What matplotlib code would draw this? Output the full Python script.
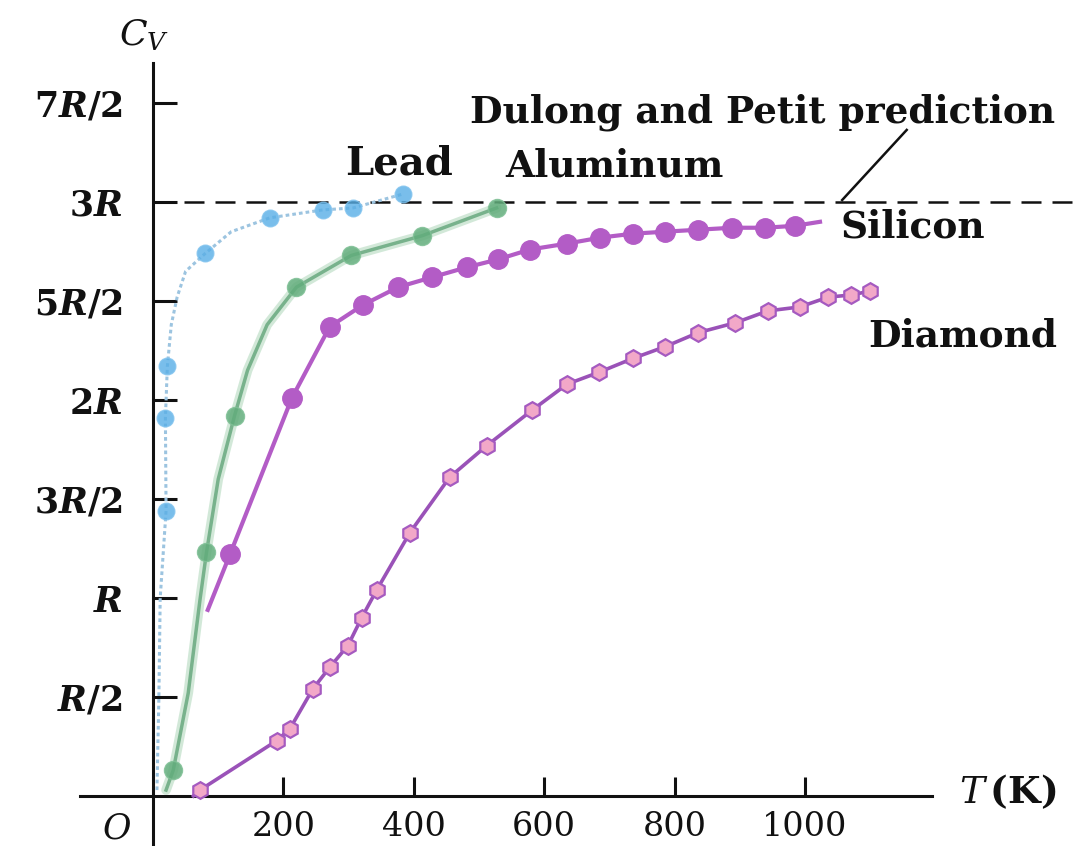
import matplotlib
matplotlib.use("Agg")
import matplotlib.pyplot as plt

plt.rcParams['mathtext.fontset'] = 'custom'
plt.rcParams['mathtext.rm'] = 'DejaVu Serif'
plt.rcParams['mathtext.it'] = 'DejaVu Serif:italic'
plt.rcParams['mathtext.bf'] = 'DejaVu Serif:bold'
plt.rcParams['mathtext.bfit'] = 'DejaVu Serif:italic:bold'

# ---------------- data (T in K, Cv in units of R) ----------------
lead_T = [6, 9, 11, 20, 19, 22, 28, 37, 50, 80, 120, 179, 260, 307, 383]
lead_C = [0.03, 0.5, 1.0, 1.44, 1.91, 2.17, 2.38, 2.52, 2.65, 2.74, 2.85, 2.92, 2.96, 2.97, 3.04]
lead_marks = [3, 4, 5, 9, 11, 12, 13, 14]

al_T = [20, 31, 54, 72, 82, 100, 125, 145, 175, 220, 304, 413, 527]
al_C = [0.03, 0.13, 0.52, 0.99, 1.23, 1.6, 1.92, 2.15, 2.38, 2.57, 2.73, 2.83, 2.97]
al_marks = [1, 4, 6, 9, 10, 11, 12]

si_T = [84, 118, 213, 271, 322, 376, 428, 481, 529, 578, 635, 686, 736, 785, 836, 888, 939, 985, 1023]
si_C = [0.94, 1.22, 2.01, 2.37, 2.48, 2.57, 2.62, 2.67, 2.71, 2.76, 2.79, 2.82, 2.84, 2.85, 2.86, 2.87, 2.87, 2.88, 2.90]
si_marks = list(range(1, 18))

di_T = [62, 72, 190, 210, 245, 271, 299, 320, 343, 394, 455, 512, 582, 635, 684, 736, 786, 836, 893, 943, 992, 1036, 1070, 1100]
di_C = [0.0, 0.03, 0.28, 0.34, 0.54, 0.65, 0.76, 0.90, 1.04, 1.33, 1.61, 1.77, 1.95, 2.08, 2.14, 2.21, 2.27, 2.34, 2.39, 2.45, 2.47, 2.52, 2.53, 2.55]
di_marks = list(range(1, 24))

dulong_C = 3.0
x_ticks = [200, 400, 600, 800, 1000]
x_tick_labels = ['200', '400', '600', '800', '1000']
y_ticks = [0.5, 1.0, 1.5, 2.0, 2.5, 3.0, 3.5]
y_tick_labels = [r'$\mathbfit{R}\mathbf{/2}$', r'$\mathbfit{R}$', r'$\mathbf{3}\mathbfit{R}\mathbf{/2}$',
                 r'$\mathbf{2}\mathbfit{R}$', r'$\mathbf{5}\mathbfit{R}\mathbf{/2}$', r'$\mathbf{3}\mathbfit{R}$',
                 r'$\mathbf{7}\mathbfit{R}\mathbf{/2}$']

# ---------------- figure ----------------
fig = plt.figure(figsize=(10.89, 8.46), dpi=100)
ax = fig.add_axes([0, 0, 1, 1])
ax.set_xlim(-234.7, 1435.6)
ax.set_ylim(-0.2525, 4.0202)
ax.set_facecolor('white')

for s in ['top', 'right']:
    ax.spines[s].set_visible(False)
ax.spines['left'].set_position(('data', 0))
ax.spines['bottom'].set_position(('data', 0))
ax.spines['left'].set_bounds(-0.2525, 3.70)
ax.spines['bottom'].set_bounds(-112, 1195)
for s in ['left', 'bottom']:
    ax.spines[s].set_linewidth(2.2)
    ax.spines[s].set_color('#111111')

ax.set_xticks(x_ticks)
ax.set_xticklabels(x_tick_labels, fontfamily='DejaVu Serif', fontsize=24)
ax.set_yticks(y_ticks)
ax.set_yticklabels(y_tick_labels, fontsize=25)
ax.tick_params(axis='x', direction='in', length=14, width=2.2, pad=11, colors='#111111')
ax.tick_params(axis='y', direction='in', length=17, width=2.2, pad=22, colors='#111111')

# Dulong-Petit dashed line
ax.plot([0, 1420], [dulong_C, dulong_C], color='#111111', lw=1.8, dashes=(8, 4.4), zorder=2)

# Lead
ax.plot(lead_T, lead_C, color='#9cc4e0', lw=2.2, ls=(0, (1.2, 1.0)), zorder=3)
ax.plot([lead_T[i] for i in lead_marks], [lead_C[i] for i in lead_marks], ls='none',
        marker='o', ms=12, color='#58aee6', mec='#7fc2ee', alpha=0.8, zorder=4)

# Aluminum
ax.plot(al_T, al_C, color='#a6d3b3', lw=7, alpha=0.5, zorder=3, solid_capstyle='round')
ax.plot(al_T, al_C, color='#78b28c', lw=2.5, zorder=3)
ax.plot([al_T[i] for i in al_marks], [al_C[i] for i in al_marks], ls='none',
        marker='o', ms=13, color='#62ad7c', mec='#80c096', alpha=0.85, zorder=4)

# Silicon
ax.plot(si_T, si_C, color='#b35cc6', lw=3, marker='o', ms=14, mfc='#b35cc6', mec='#b35cc6',
        markevery=si_marks, zorder=5)

# Diamond
ax.plot(di_T, di_C, color='#9a52b8', lw=2.6, zorder=5)
ax.plot([di_T[i] for i in di_marks], [di_C[i] for i in di_marks], ls='none',
        marker='h', ms=12, mfc='#f2a8c8', mec='#a55ac0', mew=1.6, zorder=6)

# labels
lab = dict(fontfamily='DejaVu Serif', fontweight='bold', fontsize=27, color='#111111')
ax.text(486, 3.40, 'Dulong and Petit prediction', ha='left', va='baseline', **lab)
ax.text(294, 3.14, 'Lead', ha='left', va='baseline', **dict(lab, fontsize=29))
ax.text(540, 3.13, 'Aluminum', ha='left', va='baseline', **lab)
ax.text(1054, 2.82, 'Silicon', ha='left', va='baseline', **lab)
ax.text(1097, 2.27, 'Diamond', ha='left', va='baseline', **lab)
ax.plot([1156, 1057], [3.364, 3.01], color='#111111', lw=1.8, zorder=2)

ax.text(-14, 3.84, r'$C_V$', ha='center', va='center', fontsize=26, color='#111111')
ax.text(-55, -0.165, r'$O$', ha='center', va='center', fontsize=25, color='#111111')
ax.text(1236, 0.02, r'$T\,\mathbf{(K)}$', ha='left', va='center', fontsize=27, color='#111111')

fig.savefig('out.png', dpi=100, facecolor='white')
